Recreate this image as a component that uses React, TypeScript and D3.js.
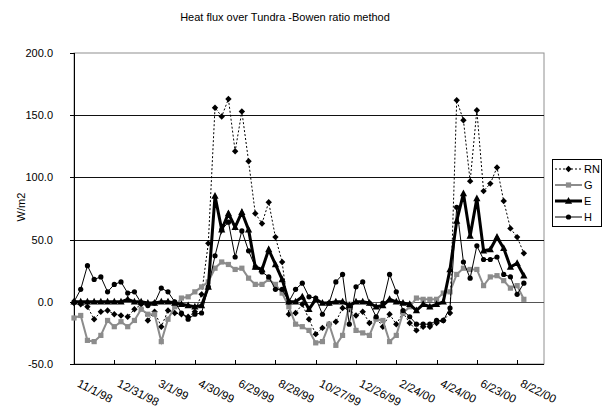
import React from "react";
import * as d3 from "d3";

// Ten-day mean fluxes (W/m2) starting 11/1/98
const startLabel = "11/1/98";
const stepDays = 10;
const spanDays = 700;

const tickLabels = [
  "11/1/98", "12/31/98", "3/1/99", "4/30/99", "6/29/99", "8/28/99",
  "10/27/99", "12/26/99", "2/24/00", "4/24/00", "6/23/00", "8/22/00",
];
const yTicks = [200, 150, 100, 50, 0, -50];

const RN = [
  -1, -2, -4, -14, -8, -7, -10, -11, -12, -6, -2, -15, -8, -20, -7, -9, -10, -12, -8, 6,
  47, 156, 149, 163, 121, 153, 113, 71, 63, 80, 52, 32, -10, -9, -2, -14, -26, -21, -18, -16,
  -5, -6, -11, -8, -17, -13, -20, -10, -18, -9, -17, -23, -20, -20, -17, -15, -9, 162, 146, 97,
  154, 89, 95, 108, 81, 59, 52, 39,
];
const G = [
  -13, -11, -31, -32, -27, -15, -20, -16, -20, -15, -6, -10, -10, -32, -14, -4, 3, 4, 8, 12,
  16, 27, 32, 30, 26, 27, 19, 14, 14, 18, 14, 7, -4, -18, -20, -23, -33, -32, -18, -35,
  -27, -2, -23, -25, -27, -14, -15, -32, -27, -9, -4, 3, 2, 2, 2, 7, 8, 22, 27, 26,
  26, 13, 20, 21, 17, 11, 13, 2,
];
const E = [
  0, 0, 0, 0, 0, 0, 0, 0, 2, 0, 0, -1, -1, 0, 0, -1, -2, -3, -4, -3,
  12, 85, 58, 71, 60, 72, 58, 28, 26, 42, 30, 18, 0, 0, 4, -6, 2, -1, -1, 0,
  0, -3, 0, 0, -1, -4, -3, 2, 0, -1, -2, -7, -2, -4, -2, 0, 26, 65, 87, 53,
  83, 41, 42, 52, 43, 28, 31, 21,
];
const H = [
  0, 10, 29, 18, 20, 8, 14, 16, 7, 8, -1, -3, -1, 11, 8, 0, -9, -14, -10, -9,
  12, 37, 58, 64, 36, 57, 41, 28, 24, 20, 10, 10, 0, 10, 15, 4, 3, -10, -1, 16,
  22, -18, 12, 16, -1, -12, -1, 22, 8, -7, -12, -18, -18, -18, -15, -15, -5, 76, 32, 19,
  45, 34, 34, 36, 22, 20, 6, 15,
];

const seriesNames = ["RN", "G", "E", "H"];

const parseMDY = (s: string) => {
  const [m, d, y] = s.split("/").map(Number);
  return new Date(Date.UTC(y < 50 ? 2000 + y : 1900 + y, m - 1, d));
};

const W = 602;
const HT = 411;
const plot = { left: 74, right: 544, top: 53, bottom: 364 };
const FONT = "'Liberation Sans', Arial, sans-serif";

type Style = {
  stroke: string;
  width: number;
  dash?: string;
  marker: "diamond" | "square" | "triangle" | "circle";
  fill: string;
};

const styles: Record<string, Style> = {
  RN: { stroke: "#000", width: 1, dash: "2,2", marker: "diamond", fill: "#000" },
  G: { stroke: "#8c8c8c", width: 2, marker: "square", fill: "#8c8c8c" },
  E: { stroke: "#000", width: 3, marker: "triangle", fill: "#000" },
  H: { stroke: "#000", width: 1, marker: "circle", fill: "#000" },
};

function Marker({ kind, x, y, fill }: { kind: Style["marker"]; x: number; y: number; fill: string }) {
  if (kind === "diamond")
    return <path d={`M${x},${y - 3.2}L${x + 3.2},${y}L${x},${y + 3.2}L${x - 3.2},${y}Z`} fill={fill} />;
  if (kind === "square") return <rect x={x - 2.6} y={y - 2.6} width={5.2} height={5.2} fill={fill} />;
  if (kind === "triangle")
    return <path d={`M${x},${y - 4}L${x + 3.6},${y + 2.8}L${x - 3.6},${y + 2.8}Z`} fill={fill} />;
  return <circle cx={x} cy={y} r={2.6} fill={fill} />;
}

export default function App() {
  const start = parseMDY(startLabel);
  const end = d3.utcDay.offset(start, spanDays);
  const x = d3.scaleUtc().domain([start, end]).range([plot.left, plot.right]);
  const y = d3.scaleLinear().domain([-50, 200]).range([plot.bottom, plot.top]);

  const values: Record<string, number[]> = { RN, G, E, H };
  const dates = RN.map((_, i) => d3.utcDay.offset(start, i * stepDays));

  const line = d3
    .line<number>()
    .x((_, i) => x(dates[i]))
    .y((v) => y(v));

  const tickDates = tickLabels.map(parseMDY);

  return (
    <svg
      width={W}
      height={HT}
      style={{ position: "absolute", left: 0, top: 0, background: "#fff" }}
      fontFamily={FONT}
    >
      <rect x={0} y={0} width={W} height={HT} fill="#fff" />
      <text x={285} y={21} fontSize={11} textAnchor="middle" fill="#000">
        Heat flux over Tundra -Bowen ratio method
      </text>

      {/* plot frame */}
      <rect
        x={plot.left}
        y={plot.top}
        width={plot.right - plot.left}
        height={plot.bottom - plot.top}
        fill="none"
        stroke="#909090"
        strokeWidth={1}
      />
      {/* horizontal gridlines */}
      {yTicks
        .filter((t) => t > -50 && t < 200)
        .map((t) => (
          <line
            key={t}
            x1={plot.left}
            x2={plot.right}
            y1={Math.round(y(t)) + 0.5}
            y2={Math.round(y(t)) + 0.5}
            stroke={t === 0 ? "#555" : "#111"}
            strokeWidth={1}
          />
        ))}
      {/* axes */}
      <line x1={plot.left + 0.5} x2={plot.left + 0.5} y1={plot.top} y2={plot.bottom} stroke="#000" />
      <line x1={plot.left} x2={plot.right} y1={plot.bottom + 0.5} y2={plot.bottom + 0.5} stroke="#000" />
      {yTicks.map((t) => (
        <g key={t}>
          <line
            x1={plot.left - 4}
            x2={plot.left}
            y1={Math.round(y(t)) + 0.5}
            y2={Math.round(y(t)) + 0.5}
            stroke="#000"
          />
          <text x={53} y={y(t) + 4} fontSize={11} textAnchor="end" fill="#000">
            {t.toFixed(1)}
          </text>
        </g>
      ))}
      {tickDates.map((d, i) => {
        const tx = Math.round(x(d)) + 0.5;
        return (
          <g key={i}>
            {i > 0 && <line x1={tx} x2={tx} y1={plot.bottom - 4} y2={plot.bottom} stroke="#000" />}
            <text
              x={tx + 2}
              y={386}
              fontSize={11.5}
              fill="#000"
              transform={`rotate(27, ${tx + 2}, 386)`}
            >
              {tickLabels[i]}
            </text>
          </g>
        );
      })}
      <text x={25} y={207} fontSize={11} textAnchor="middle" transform="rotate(-90, 25, 207)" fill="#000">
        W/m2
      </text>

      {/* series */}
      {seriesNames.map((name) => {
        const s = styles[name];
        const vals = values[name];
        return (
          <g key={name}>
            <path
              d={line(vals) || ""}
              fill="none"
              stroke={s.stroke}
              strokeWidth={s.width}
              strokeDasharray={s.dash}
              strokeLinejoin="miter"
            />
            {vals.map((v, i) => (
              <Marker key={i} kind={s.marker} x={x(dates[i])} y={y(v)} fill={s.fill} />
            ))}
          </g>
        );
      })}

      {/* legend */}
      <rect x={552.5} y={159.5} width={49} height={67} fill="#fff" stroke="#000" />
      {seriesNames.map((name, i) => {
        const s = styles[name];
        const ly = 169 + i * 16;
        return (
          <g key={name}>
            <line x1={555} x2={582} y1={ly} y2={ly} stroke={s.stroke} strokeWidth={s.width} strokeDasharray={s.dash} />
            <Marker kind={s.marker} x={568.5} y={ly} fill={s.fill} />
            <text x={584} y={ly + 4} fontSize={11} fill="#000">
              {name}
            </text>
          </g>
        );
      })}
    </svg>
  );
}
